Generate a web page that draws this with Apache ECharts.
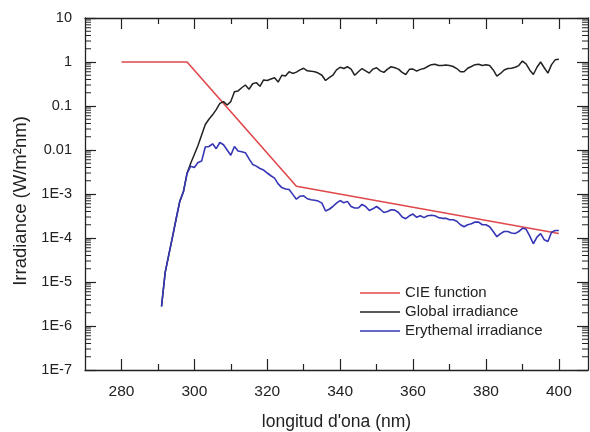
<!DOCTYPE html>
<html>
<head>
<meta charset="utf-8">
<script src="https://cdn.jsdelivr.net/npm/echarts@6/dist/echarts.min.js"></script>
<style>html,body{margin:0;padding:0;background:#fff;}#c{width:590px;height:432px;}</style>
</head>
<body>
<div id="c"></div>
<script>
// ---- data ----
const wavelengths = [291,292,293,294,295,296,297,298,299,300,
301,302,303,304,305,306,307,308,309,310,
311,312,313,314,315,316,317,318,319,320,
321,322,323,324,325,326,327,328,329,330,
331,332,333,334,335,336,337,338,339,340,
341,342,343,344,345,346,347,348,349,350,
351,352,353,354,355,356,357,358,359,360,
361,362,363,364,365,366,367,368,369,370,
371,372,373,374,375,376,377,378,379,380,
381,382,383,384,385,386,387,388,389,390,
391,392,393,394,395,396,397,398,399,400];
const globalIrr = [2.8e-6,1.66e-5,4.2e-5,1.05e-4,2.7e-4,6.8e-4,1.12e-3,2.95e-3,5.0e-3,7.9e-3,
0.0126,0.022,0.038,0.050,0.063,0.083,0.115,0.126,0.105,0.126,
0.21,0.22,0.26,0.30,0.24,0.32,0.34,0.28,0.39,0.38,
0.41,0.44,0.35,0.50,0.48,0.60,0.55,0.59,0.66,0.72,
0.63,0.62,0.60,0.56,0.50,0.38,0.44,0.50,0.66,0.76,
0.71,0.78,0.69,0.50,0.60,0.71,0.63,0.56,0.69,0.74,
0.63,0.58,0.69,0.78,0.74,0.69,0.58,0.52,0.68,0.69,
0.62,0.68,0.71,0.79,0.87,0.89,0.83,0.83,0.85,0.83,
0.79,0.71,0.60,0.60,0.72,0.79,0.87,0.89,0.83,0.87,
0.83,0.66,0.48,0.55,0.66,0.71,0.72,0.76,0.83,1.05,
0.91,0.66,0.52,0.76,1.0,0.74,0.56,0.87,1.12,1.15];
const erythemalIrr = [2.8e-6,1.66e-5,4.2e-5,1.05e-4,2.7e-4,6.8e-4,1.12e-3,2.95e-3,4.3e-3,4.0e-3,
5.2e-3,5.6e-3,0.0117,0.0120,0.0138,0.0107,0.0148,0.0132,0.0100,0.0076,
0.0120,0.0095,0.0091,0.0087,0.0063,0.0047,0.0043,0.0038,0.0035,0.0030,
0.0026,0.0023,0.0017,0.0014,0.0013,0.00126,9.8e-4,7.6e-4,8.9e-4,9.1e-4,
7.8e-4,7.4e-4,7.2e-4,6.9e-4,6.2e-4,4.1e-4,4.5e-4,5.2e-4,6.2e-4,7.1e-4,
6.3e-4,6.8e-4,5.2e-4,4.8e-4,4.8e-4,5.8e-4,5.2e-4,4.2e-4,4.6e-4,5.2e-4,
4.5e-4,3.8e-4,4.0e-4,4.4e-4,4.3e-4,3.8e-4,3.0e-4,2.75e-4,3.2e-4,3.5e-4,
2.95e-4,3.2e-4,2.9e-4,3.2e-4,3.3e-4,3.2e-4,2.9e-4,2.8e-4,2.8e-4,2.6e-4,
2.6e-4,2.4e-4,2.0e-4,1.8e-4,2.0e-4,2.1e-4,2.3e-4,2.3e-4,2.0e-4,2.0e-4,
1.8e-4,1.4e-4,1.07e-4,1.26e-4,1.4e-4,1.4e-4,1.3e-4,1.26e-4,1.4e-4,1.66e-4,
1.6e-4,1.12e-4,7.4e-5,1.05e-4,1.26e-4,9.1e-5,8.3e-5,1.35e-4,1.48e-4,1.48e-4];
const cieWavelengths = [280, 298, 328, 400];
const cieValues = [1, 1, 0.0015, 0.000126];

const seriesNames = ['CIE function', 'Global irradiance', 'Erythemal irradiance'];
const xMajorTicks = [280, 300, 320, 340, 360, 380, 400];
const xMinorTicks = [290, 310, 330, 350, 370, 390];
const yTickLabels = ['1E-7','1E-6','1E-5','1E-4','1E-3','0.01','0.1','1','10'];
const xName = "longitud d'ona (nm)";
const yName = 'Irradiance (W/m\u00B2nm)';

// log minor tick positions (2..9 within each decade)
const yMinorTicks = [];
for (let d = -7; d <= 0; d++) {
  for (let k = 2; k <= 9; k++) yMinorTicks.push(k * Math.pow(10, d));
}

const X_MIN = 270, X_MAX = 408;
const FONT = 'Liberation Sans, Arial, sans-serif';
const AX = '#222';

function zip(a, b) { return a.map((v, i) => [v, b[i]]); }

const chart = echarts.init(document.getElementById('c'), null, {renderer: 'canvas'});

const baseX = {
  type: 'value', min: X_MIN, max: X_MAX, gridIndex: 0,
  splitLine: {show: false},
};

const option = {
  backgroundColor: '#fff',
  animation: false,
  textStyle: {fontFamily: FONT},
  grid: {left: 85, right: 2, top: 18, bottom: 62, containLabel: false, outerBoundsMode: 'none'},
  legend: {
    data: seriesNames,
    orient: 'vertical',
    left: 360, top: 283.5, padding: 0,
    icon: 'rect',
    itemWidth: 40, itemHeight: 1.6, itemGap: 0,
    textStyle: {fontSize: 15, lineHeight: 19, color: '#222', fontFamily: FONT},
    selectedMode: false
  },
  xAxis: [
    Object.assign({}, baseX, {
      position: 'bottom',
      axisLine: {show: true, onZero: false, lineStyle: {color: AX, width: 1.3}},
      axisTick: {show: true, inside: true, length: 11, customValues: xMajorTicks, lineStyle: {color: AX, width: 1.2}},
      axisLabel: {show: true, customValues: xMajorTicks, fontSize: 15.5, color: '#222', margin: 14, fontFamily: FONT},
      name: xName, nameLocation: 'middle', nameGap: 43,
      nameTextStyle: {fontSize: 17.5, color: '#222', fontFamily: FONT}
    }),
    Object.assign({}, baseX, {
      position: 'bottom',
      axisLine: {show: false, onZero: false},
      axisTick: {show: true, inside: true, length: 6, customValues: xMinorTicks, lineStyle: {color: AX, width: 1.2}},
      axisLabel: {show: false}
    }),
    Object.assign({}, baseX, {
      position: 'top',
      axisLine: {show: true, onZero: false, lineStyle: {color: AX, width: 1.3}},
      axisTick: {show: true, inside: true, length: 11, customValues: xMajorTicks, lineStyle: {color: AX, width: 1.2}},
      axisLabel: {show: false}
    }),
    Object.assign({}, baseX, {
      position: 'top',
      axisLine: {show: false, onZero: false},
      axisTick: {show: true, inside: true, length: 6, customValues: xMinorTicks, lineStyle: {color: AX, width: 1.2}},
      axisLabel: {show: false}
    })
  ],
  yAxis: [
    {
      type: 'log', logBase: 10, min: 1e-7, max: 10, splitNumber: 8,
      position: 'left',
      splitLine: {show: false},
      axisLine: {show: true, onZero: false, lineStyle: {color: AX, width: 1.3}},
      axisTick: {show: true, inside: true, length: 11, lineStyle: {color: AX, width: 1.2}},
      axisLabel: {
        show: true, fontSize: 14.5, color: '#222', margin: 13, fontFamily: FONT,
        formatter: function (v) {
          const i = Math.round(Math.log10(v)) + 7;
          return yTickLabels[i] !== undefined ? yTickLabels[i] : '';
        }
      },
      name: yName, nameLocation: 'middle', nameGap: 55, nameRotate: 90,
      nameTextStyle: {fontSize: 18.5, color: '#222', fontFamily: FONT, padding: [0, 14, 0, 0]}
    },
    {
      type: 'log', logBase: 10, min: 1e-7, max: 10, splitNumber: 8,
      position: 'right',
      splitLine: {show: false},
      axisLine: {show: true, onZero: false, lineStyle: {color: AX, width: 1.3}},
      axisTick: {show: true, inside: true, length: 11, lineStyle: {color: AX, width: 1.2}},
      axisLabel: {show: false}
    }
  ],
  series: [
    {
      name: seriesNames[0], type: 'line', xAxisIndex: 0, yAxisIndex: 0,
      data: zip(cieWavelengths, cieValues),
      symbol: 'none', showSymbol: false,
      lineStyle: {color: '#e0484c', width: 1.6},
      itemStyle: {color: '#e0484c'}, z: 3
    },
    {
      name: seriesNames[1], type: 'line', xAxisIndex: 0, yAxisIndex: 0,
      data: zip(wavelengths, globalIrr),
      symbol: 'none', showSymbol: false,
      lineStyle: {color: '#222222', width: 1.5},
      itemStyle: {color: '#222222'}, z: 4
    },
    {
      name: seriesNames[2], type: 'line', xAxisIndex: 0, yAxisIndex: 0,
      data: zip(wavelengths, erythemalIrr),
      symbol: 'none', showSymbol: false,
      lineStyle: {color: '#3535b5', width: 1.6},
      itemStyle: {color: '#3535b5'}, z: 5
    },
    {
      name: 'yMinorTicks', type: 'custom', xAxisIndex: 0, yAxisIndex: 0,
      silent: true, clip: false, z: 6,
      data: yMinorTicks.map(v => [X_MIN, v]),
      renderItem: function (params, api) {
        const v = api.value(1);
        const pl = api.coord([X_MIN, v]);
        const pr = api.coord([X_MAX, v]);
        return {
          type: 'group',
          children: [
            {type: 'line', shape: {x1: pl[0], y1: pl[1], x2: pl[0] + 6, y2: pl[1]}, style: {stroke: AX, lineWidth: 1}},
            {type: 'line', shape: {x1: pr[0] - 6, y1: pr[1], x2: pr[0], y2: pr[1]}, style: {stroke: AX, lineWidth: 1}}
          ]
        };
      }
    }
  ]
};
chart.setOption(option);
</script>
</body>
</html>
